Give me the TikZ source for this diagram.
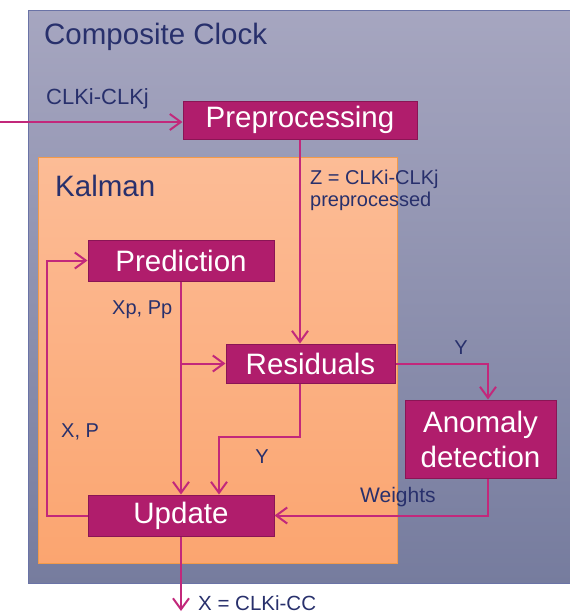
\documentclass[tikz,border=0pt]{standalone}
\usepackage{fontspec}
\setmainfont{Liberation Sans}
\usetikzlibrary{arrows.meta}
\definecolor{outtop}{HTML}{A6A6C0}
\definecolor{outbot}{HTML}{767C9E}
\definecolor{outline}{HTML}{6A73A6}
\definecolor{kaltop}{HTML}{FCBC96}
\definecolor{kalbot}{HTML}{FBA570}
\definecolor{kalline}{HTML}{F29A4A}
\definecolor{boxfill}{HTML}{B01D6C}
\definecolor{boxline}{HTML}{8A1555}
\definecolor{wire}{HTML}{C2287B}
\definecolor{navy}{HTML}{28306C}
\tikzset{
  procbox/.style={draw=boxline, line width=1pt, fill=boxfill, text=white,
    font=\fontsize{29.5}{31}\selectfont, inner sep=0pt, align=center},
  arr/.style={draw=wire, line width=2pt, -{Straight Barb[length=11pt,width=16pt,line width=2pt]}},
  lbl/.style={text=navy, font=\fontsize{20}{22}\selectfont, inner sep=0pt, anchor=west, align=left},
}
\begin{document}
\begin{tikzpicture}[x=1pt,y=-1pt]
\useasboundingbox (0,0) rectangle (570,614);
% outer composite box
\path[top color=outtop, bottom color=outbot, draw=outline, line width=0.8pt]
  (28,10) rectangle (575,583);
\node[text=navy, font=\fontsize{29.5}{31}\selectfont, inner sep=0pt, anchor=west] (cc) at (44,37) {Composite Clock};
% Kalman box
\path[top color=kaltop, bottom color=kalbot, draw=kalline, line width=0.8pt]
  (38,157) rectangle (397,563);
\node[text=navy, font=\fontsize{29.5}{31}\selectfont, inner sep=0pt, anchor=west] (kal) at (55,186) {Kalman};

% process boxes
\node[procbox, minimum width=234pt, minimum height=38pt] (pre) at (300,120) {Preprocessing};
\node[procbox, minimum width=186pt, minimum height=41pt] (pred) at (181,260.5) {Prediction};
\node[procbox, minimum width=169pt, minimum height=39pt] (res) at (310.5,363.5) {Residuals};
\node[procbox, minimum width=151pt, minimum height=78pt, font=\fontsize{29.5}{35}\selectfont] (anom) at (480.5,439) {Anomaly\\detection};
\node[procbox, minimum width=186pt, minimum height=41pt] (upd) at (181,515.5) {Update};

% coordinates
\coordinate (in) at (0,122);
\coordinate (ax) at (488,0);
\coordinate (fx) at (47,0);
\coordinate (ry) at (219,437);
\coordinate (out) at (181,611);
\coordinate (br) at (181,363.5);

% connectors
\draw[arr] (in) -- (pre.west |- in);
\draw[arr] (pre.south) -- (pre.south |- res.north);
\draw[arr] (pred.south) -- (upd.north);
\draw[arr] (br) -- (res.west);
\draw[arr] (pre.south |- res.south) |- (ry) -- (ry |- upd.north);
\draw[arr] (res.east) -| (ax |- anom.north);
\draw[arr] (ax |- anom.south) |- (upd.east);
\draw[arr] (upd.west) -- (fx |- upd.west) -- (fx |- pred.west) -- (pred.west);
\draw[arr] (upd.south) -- (out);

% labels
\node[lbl, font=\fontsize{22}{24}\selectfont] (l1) at (46,99) {CLKi-CLKj};
\node[lbl] (l2) at (310,190) {Z = CLKi-CLKj\\preprocessed};
\node[lbl] (l3) at (112,310) {Xp, Pp};
\node[lbl] (l4) at (61,432) {X, P};
\node[lbl, anchor=center] (l5) at (262,457) {Y};
\node[lbl, anchor=center] (l6) at (461,348) {Y};
\node[lbl, font=\fontsize{21}{22}\selectfont] (l7) at (360,497) {Weights};
\node[lbl, font=\fontsize{20.5}{22}\selectfont] (l8) at (198,603) {X = CLKi-CC};
\end{tikzpicture}
\end{document}
